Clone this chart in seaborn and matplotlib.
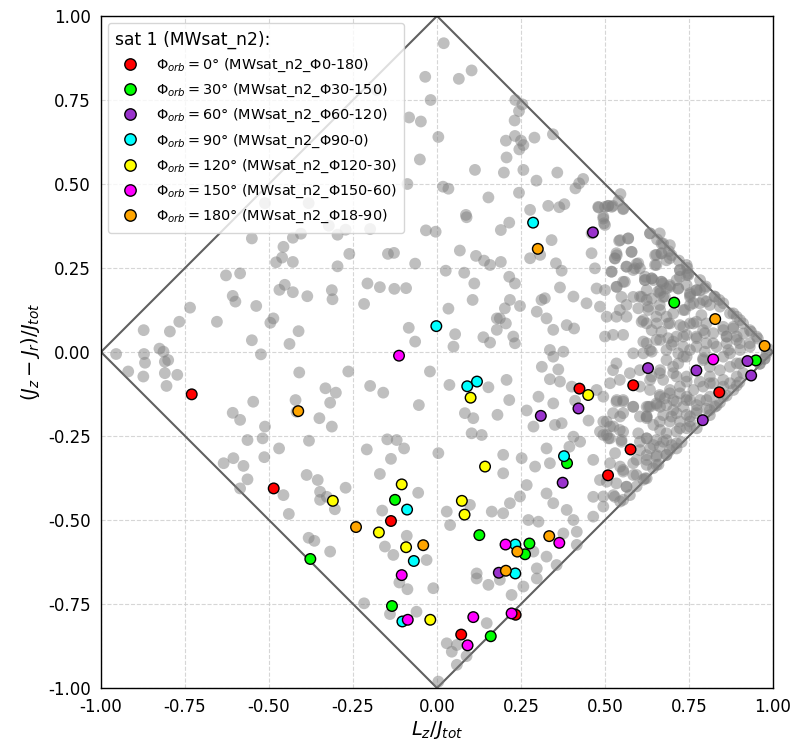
import matplotlib
matplotlib.use("Agg")
import matplotlib.pyplot as plt
from matplotlib.lines import Line2D
import seaborn as sns
import pandas as pd

# ---------------- data ----------------
grey_x = [
    -0.551, -0.457, -0.429, -0.405, -0.479, -0.461, -0.429, -0.322, -0.296, -0.272, -0.199, -0.261, -0.296,
    -0.146, -0.128, -0.065, -0.033, -0.004, -0.628, -0.586, -0.608, -0.600, -0.538, -0.469, -0.453, -0.429,
    -0.386, -0.313, -0.311, -0.207, -0.170, -0.127, -0.092, -0.217, -0.735, -0.767, -0.795, -0.873, -0.826,
    -0.955, -0.872, -0.814, -0.655, -0.551, -0.496, -0.487, -0.524, -0.439, -0.412, -0.084, -0.065,
    -0.512, -0.382, -0.180,
    0.020, -0.035, 0.065, 0.103, -0.019, -0.083, -0.048, 0.004, -0.051, -0.088, 0.018, 0.034, 0.113, 0.153,
    0.233, 0.254, 0.244, 0.231, 0.205, 0.232, 0.250, 0.257, 0.245, 0.290, 0.345, 0.207, 0.199, 0.257, 0.296,
    0.358, 0.244, 0.412, 0.423, 0.435, 0.364, 0.379, 0.481, 0.509, 0.523, 0.086, 0.540,
    0.088, 0.190, 0.215, 0.277, 0.331, 0.068, 0.116, 0.140, 0.158, 0.190, 0.026, 0.081, 0.111, 0.106, 0.034,
    0.054, 0.049, 0.138, 0.158, 0.178, 0.205, 0.215, 0.232, 0.217, 0.247, 0.202, 0.178, 0.187, 0.227, 0.232,
    0.277, 0.307, 0.341, 0.354, 0.371, 0.366, 0.406, 0.311, 0.321, 0.297, 0.326, 0.346, 0.386, 0.408, 0.336,
    0.376, 0.445, 0.460,
    -0.021, 0.037, 0.153, 0.207, 0.215, 0.180, 0.133, 0.103, 0.108, 0.083, 0.004, 0.267, 0.302, 0.346, 0.366,
    0.475, 0.495, 0.336, 0.406, 0.426, 0.394, 0.326, 0.252, 0.267, 0.336, 0.292, 0.530, 0.197, 0.197, 0.217,
    0.247, 0.163, 0.197, 0.029, 0.039, 0.098, 0.326, 0.346, 0.272, 0.302, 0.386, 0.406, 0.416, 0.376, 0.495,
    0.416, 0.326, 0.356, 0.297, -0.031, -0.011, 0.118, 0.118, 0.153, 0.187, 0.222, 0.257, 0.297, 0.287, 0.148,
    0.059, 0.029, 0.044, 0.059, 0.004, 0.088,
    -0.869, -0.810, -0.800, -0.810, -0.773, -0.919, -0.874, -0.805, -0.410, -0.264, -0.199, -0.160, -0.547,
    -0.608, -0.586, -0.512, -0.564, -0.519, -0.470, -0.381, -0.421, -0.418, -0.350, -0.313, -0.318, -0.332,
    -0.301, -0.209, -0.148, -0.120, -0.098, -0.137, -0.054, -0.635, -0.606, -0.576, -0.564, -0.586, -0.514,
    -0.388, -0.355, -0.348, -0.328, -0.304, -0.348, -0.457, -0.441, -0.272, -0.170, -0.056, -0.163, -0.090,
    -0.155, -0.130, -0.088, -0.112, -0.382, -0.365, -0.318, -0.217, -0.140, -0.061,
    0.546, 0.554, 0.510, 0.480, 0.495, 0.497, 0.634, 0.663, 0.542, 0.569, 0.668, 0.693, 0.579, 0.534, 0.529,
    0.653, 0.668, 0.693, 0.460, 0.470, 0.564, 0.594, 0.604, 0.584, 0.653, 0.519, 0.723, 0.743, 0.748, 0.619,
    0.639, 0.668, 0.693, 0.559, 0.534, 0.475, 0.500, 0.604, 0.624, 0.683, 0.718, 0.678, 0.658, 0.753, 0.772,
    0.797, 0.827, 0.782, 0.812, 0.852, 0.882, 0.753, 0.733, 0.663, 0.629, 0.599, 0.564, 0.544, 0.485, 0.505,
    0.534, 0.564, 0.624, 0.653, 0.683, 0.609, 0.639, 0.668, 0.688, 0.723, 0.753, 0.772, 0.802, 0.787, 0.852,
    0.882, 0.911, 0.931, 0.951, 0.892, 0.862, 0.822, 0.797, 0.772, 0.743, 0.713, 0.688, 0.653, 0.624, 0.554,
    0.524, 0.500, 0.698, 0.733, 0.772, 0.802, 0.832, 0.862, 0.901, 0.931, 0.985,
    0.584, 0.614, 0.639, 0.683, 0.718, 0.743, 0.792, 0.852, 0.892, 0.872, 0.911, 0.961, 0.975, 0.534, 0.524,
    0.515, 0.544, 0.574, 0.604, 0.639, 0.663, 0.703, 0.743, 0.782, 0.812, 0.872, 0.892, 0.862, 0.832, 0.802,
    0.753, 0.723, 0.693, 0.663, 0.634, 0.604, 0.554, 0.534, 0.584, 0.624, 0.653, 0.683, 0.713, 0.743, 0.772,
    0.624, 0.663, 0.693, 0.723, 0.753, 0.554, 0.524, 0.495, 0.544, 0.515, 0.485, 0.599, 0.624, 0.653, 0.683,
    0.713, 0.663, 0.634, 0.693, 0.604, 0.549, 0.683, 0.653, 0.624, 0.594, 0.554, 0.515, 0.485, 0.465, 0.534,
    0.584, 0.619, 0.564, 0.594, 0.529, 0.554, 0.465, 0.465, 0.495, 0.643, 0.653,
]
grey_y = [
    0.338, 0.313, 0.340, 0.352, 0.267, 0.281, 0.268, 0.376, 0.349, 0.364, 0.366, 0.292, 0.255,
    0.292, 0.295, 0.263, 0.362, 0.358, 0.228, 0.234, 0.167, 0.150, 0.137, 0.185, 0.200, 0.178,
    0.166, 0.184, 0.157, 0.204, 0.193, 0.188, 0.190, 0.143, 0.132, 0.090, 0.061, 0.065, 0.010,
    -0.006, -0.006, 0.001, 0.090, 0.035, 0.087, 0.100, -0.007, 0.024, 0.062, 0.072, 0.031,
    0.443, 0.443, 0.780,
    0.919, 0.819, 0.813, 0.838, 0.750, 0.698, 0.686, 0.640, 0.573, 0.500, 0.492, 0.486, 0.542, 0.460,
    0.750, 0.737, 0.717, 0.689, 0.629, 0.643, 0.629, 0.616, 0.603, 0.638, 0.648, 0.579, 0.534, 0.542, 0.510,
    0.534, 0.474, 0.487, 0.502, 0.515, 0.431, 0.440, 0.430, 0.435, 0.435, 0.408, 0.450,
    0.401, 0.363, 0.385, 0.423, 0.435, 0.302, 0.286, 0.272, 0.259, 0.268, 0.242, 0.236, 0.204, 0.155, 0.129,
    0.053, 0.016, 0.044, 0.028, 0.066, 0.085, 0.224, 0.204, 0.155, 0.137, 0.130, 0.100, 0.100, 0.046, 0.026,
    0.279, 0.289, 0.333, 0.264, 0.242, 0.192, 0.165, 0.155, 0.160, 0.120, 0.100, 0.066, 0.080, 0.070, 0.006,
    0.001, 0.145, 0.353,
    -0.058, -0.098, -0.105, -0.083, -0.143, -0.187, -0.247, -0.242, -0.197, -0.182, -0.301, -0.174, -0.133, -0.153, -0.088,
    -0.113, -0.133, -0.081, -0.252, -0.267, -0.282, -0.287, -0.316, -0.396, -0.331, -0.341, -0.301, -0.306, -0.361, -0.450,
    -0.430, -0.475, -0.480, -0.475, -0.515, -0.455, -0.421, -0.450, -0.500, -0.505, -0.470, -0.500, -0.535, -0.540, -0.430,
    -0.574, -0.609, -0.634, -0.644, -0.619, -0.703, -0.659, -0.674, -0.693, -0.678, -0.723, -0.698, -0.674, -0.594, -0.807,
    -0.872, -0.867, -0.892, -0.931, -0.981, -0.905,
    -0.032, -0.029, -0.024, -0.063, -0.068, -0.058, -0.073, -0.101, -0.061, -0.058, -0.101, -0.121, -0.148,
    -0.181, -0.202, -0.222, -0.262, -0.257, -0.287, -0.264, -0.143, -0.178, -0.197, -0.222, -0.151, -0.108,
    -0.121, -0.290, -0.260, -0.262, -0.287, -0.318, -0.158, -0.331, -0.316, -0.339, -0.379, -0.406, -0.313,
    -0.366, -0.381, -0.416, -0.431, -0.468, -0.440, -0.426, -0.482, -0.404, -0.363, -0.419, -0.472, -0.547,
    -0.579, -0.604, -0.706, -0.686, -0.553, -0.562, -0.594, -0.748, -0.780, -0.773,
    0.470, 0.425, 0.435, 0.432, 0.403, 0.383, 0.353, 0.353, 0.331, 0.338, 0.323, 0.318, 0.298, 0.294, 0.279,
    0.289, 0.294, 0.279, 0.294, 0.249, 0.254, 0.262, 0.249, 0.244, 0.259, 0.239, 0.244, 0.259, 0.234, 0.214,
    0.219, 0.209, 0.199, 0.209, 0.194, 0.189, 0.184, 0.165, 0.155, 0.189, 0.189, 0.165, 0.180, 0.170, 0.184,
    0.190, 0.165, 0.145, 0.140, 0.145, 0.115, 0.140, 0.125, 0.140, 0.125, 0.130, 0.140, 0.125, 0.135, 0.105,
    0.105, 0.105, 0.085, 0.105, 0.105, 0.090, 0.065, 0.060, 0.085, 0.080, 0.085, 0.090, 0.085, 0.110, 0.075,
    0.070, 0.085, 0.065, 0.046, 0.046, 0.046, 0.056, 0.056, 0.046, 0.051, 0.046, 0.041, 0.036, 0.026, 0.051,
    0.051, 0.046, 0.021, 0.016, 0.016, 0.026, 0.016, 0.026, 0.026, 0.016, 0.010,
    -0.004, -0.004, 0.001, -0.024, -0.034, -0.014, -0.019, -0.014, -0.034, -0.004, -0.063, -0.035, -0.020, -0.034, -0.054,
    -0.093, -0.083, -0.063, -0.054, -0.073, -0.063, -0.063, -0.088, -0.088, -0.093, -0.093, -0.100, -0.130, -0.160, -0.143,
    -0.143, -0.123, -0.123, -0.128, -0.113, -0.103, -0.143, -0.148, -0.163, -0.163, -0.153, -0.158, -0.182, -0.187, -0.182,
    -0.192, -0.207, -0.207, -0.227, -0.222, -0.182, -0.182, -0.207, -0.232, -0.257, -0.237, -0.242, -0.257, -0.262, -0.262,
    -0.272, -0.282, -0.287, -0.292, -0.292, -0.267, -0.306, -0.311, -0.321, -0.321, -0.351, -0.331, -0.381, -0.321, -0.391,
    -0.366, -0.376, -0.401, -0.400, -0.431, -0.440, -0.431, -0.490, -0.460, -0.346, -0.336,
]

# extra grey points read from the dense right-hand wedge
grey_dense_x = [
    0.619, 0.644, 0.673, 0.713, 0.743, 0.624, 0.664, 0.753, 0.783, 0.802, 0.763, 0.738, 0.703, 0.664, 0.629,
    0.614, 0.654, 0.693, 0.733, 0.763, 0.792, 0.773, 0.733, 0.703, 0.664, 0.634, 0.614, 0.683, 0.718, 0.753,
    0.797, 0.822, 0.862, 0.892, 0.902, 0.867, 0.852, 0.882, 0.912, 0.931, 0.955, 0.935, 0.902, 0.872, 0.842,
    0.840, 0.892, 0.981, 0.975, 0.960, 0.902, 0.872, 0.842, 0.812, 0.792, 0.733, 0.703, 0.664, 0.634, 0.673,
    0.713, 0.743, 0.812, 0.852, 0.892, 0.900, 0.882, 0.852, 0.822, 0.792, 0.763, 0.723, 0.693, 0.664, 0.703,
    0.743, 0.783, 0.812, 0.852, 0.842, 0.812, 0.773, 0.733, 0.703, 0.664, 0.634, 0.624, 0.753,
    0.346, 0.312, 0.361, 0.401, 0.411, 0.287, 0.351, 0.371, 0.451, 0.505, 0.515,
]
grey_dense_y = [
    0.224, 0.214, 0.204, 0.214, 0.229, 0.184, 0.175, 0.175, 0.184, 0.150, 0.145, 0.125, 0.115, 0.125, 0.135,
    0.095, 0.085, 0.085, 0.075, 0.085, 0.065, 0.041, 0.046, 0.031, 0.036, 0.006, 0.031, 0.006, -0.004, 0.006,
    0.001, 0.026, 0.046, 0.036, 0.006, 0.006, 0.065, 0.075, 0.055, 0.026, 0.040, 0.060, 0.095, 0.115, 0.135,
    0.155, 0.105, -0.004, -0.020, -0.035, -0.034, -0.044, -0.054, -0.044, -0.024, -0.014, -0.044, -0.054, -0.083, -0.083,
    -0.073, -0.073, -0.073, -0.083, -0.073, -0.090, -0.113, -0.103, -0.093, -0.103, -0.113, -0.103, -0.113, -0.133, -0.143,
    -0.133, -0.143, -0.133, -0.133, -0.150, -0.173, -0.173, -0.163, -0.173, -0.163, -0.163, -0.192, -0.192,
    -0.014, -0.044, -0.052, -0.103, -0.145, -0.222, -0.217, -0.212, -0.204, -0.247, -0.222,
]

# further grey points: lower-right edge band
grey_low_x = [
    0.535, 0.554, 0.584, 0.629, 0.654, 0.678, 0.713, 0.743, 0.773, 0.802, 0.827,
    0.545, 0.505, 0.525, 0.554, 0.604, 0.624, 0.644, 0.673, 0.698, 0.723, 0.753, 0.812,
    0.664, 0.683, 0.713, 0.743, 0.773,
    0.495, 0.510, 0.549, 0.604, 0.624, 0.644, 0.673, 0.698, 0.728,
    0.624, 0.654, 0.683, 0.713,
    0.545, 0.584, 0.624, 0.659, 0.594, 0.624, 0.554, 0.505, 0.564, 0.614, 0.525, 0.574, 0.545,
]
grey_low_y = [
    -0.143, -0.148, -0.163, -0.163, -0.158, -0.138, -0.148, -0.143, -0.158, -0.168, -0.163,
    -0.192, -0.207, -0.222, -0.237, -0.192, -0.197, -0.217, -0.188, -0.192, -0.207, -0.207, -0.188,
    -0.232, -0.242, -0.237, -0.227, -0.227,
    -0.247, -0.257, -0.262, -0.267, -0.257, -0.277, -0.267, -0.277, -0.268,
    -0.307, -0.307, -0.307, -0.287,
    -0.341, -0.331, -0.336, -0.335, -0.366, -0.376, -0.356, -0.386, -0.401, -0.380, -0.426, -0.426, -0.445,
]

# further grey points: upper-right edge band
grey_up_x = [
    0.500, 0.520, 0.495, 0.500, 0.554, 0.634, 0.655, 0.545, 0.569, 0.673, 0.690, 0.579, 0.535, 0.530, 0.649,
    0.668, 0.698, 0.683, 0.720, 0.599, 0.589, 0.564, 0.520, 0.649, 0.723, 0.745, 0.748, 0.723, 0.639, 0.619,
    0.554, 0.535, 0.668, 0.693, 0.664, 0.718, 0.743, 0.783, 0.800, 0.773, 0.825, 0.792, 0.609, 0.639, 0.584,
    0.549, 0.673, 0.753,
]
grey_up_y = [
    0.432, 0.432, 0.397, 0.378, 0.427, 0.353, 0.335, 0.333, 0.338, 0.323, 0.300, 0.298, 0.288, 0.278, 0.288,
    0.293, 0.288, 0.273, 0.272, 0.264, 0.249, 0.254, 0.239, 0.259, 0.244, 0.250, 0.229, 0.224, 0.219, 0.214,
    0.209, 0.194, 0.209, 0.194, 0.184, 0.189, 0.199, 0.214, 0.195, 0.184, 0.165, 0.155, 0.164, 0.159, 0.164,
    0.164, 0.164, 0.164,
]

phi0_x = [-0.730, -0.486, -0.137, 0.424, 0.584, 0.840, 0.576, 0.509, 0.234, 0.072]
phi0_y = [-0.126, -0.406, -0.503, -0.109, -0.099, -0.120, -0.290, -0.367, -0.782, -0.841]
phi30_x = [-0.377, -0.125, -0.134, 0.706, 0.949, 0.387, 0.126, 0.275, 0.262, 0.160]
phi30_y = [-0.616, -0.440, -0.756, 0.147, -0.025, -0.331, -0.545, -0.570, -0.602, -0.846]
phi60_x = [0.464, 0.924, 0.935, 0.772, 0.791, 0.628, 0.421, 0.309, 0.374, 0.184]
phi60_y = [0.356, -0.027, -0.070, -0.055, -0.203, -0.048, -0.168, -0.190, -0.389, -0.657]
phi90_x = [0.286, -0.002, 0.090, 0.119, 0.378, 0.233, 0.233, -0.089, -0.069, -0.103]
phi90_y = [0.385, 0.077, -0.102, -0.088, -0.310, -0.573, -0.659, -0.469, -0.622, -0.802]
phi120_x = [-0.310, -0.173, -0.105, -0.092, -0.020, 0.450, 0.100, 0.143, 0.074, 0.082]
phi120_y = [-0.443, -0.537, -0.394, -0.581, -0.797, -0.128, -0.136, -0.341, -0.443, -0.484]
phi150_x = [-0.113, -0.105, -0.087, 0.822, 0.364, 0.204, 0.108, 0.222, 0.091]
phi150_y = [-0.011, -0.664, -0.797, -0.022, -0.568, -0.573, -0.789, -0.778, -0.873]
phi180_x = [-0.413, -0.241, -0.041, 0.300, 0.828, 0.975, 0.334, 0.239, 0.205]
phi180_y = [-0.176, -0.521, -0.575, 0.307, 0.098, 0.018, -0.548, -0.594, -0.651]

phase_labels = [
    r"$\Phi_{orb} = 0°$ (MWsat_n2_Φ0-180)",
    r"$\Phi_{orb} = 30°$ (MWsat_n2_Φ30-150)",
    r"$\Phi_{orb} = 60°$ (MWsat_n2_Φ60-120)",
    r"$\Phi_{orb} = 90°$ (MWsat_n2_Φ90-0)",
    r"$\Phi_{orb} = 120°$ (MWsat_n2_Φ120-30)",
    r"$\Phi_{orb} = 150°$ (MWsat_n2_Φ150-60)",
    r"$\Phi_{orb} = 180°$ (MWsat_n2_Φ18-90)",
]
phase_colors = ["#ff0000", "#00ff00", "#9932cc", "#00ffff", "#ffff00", "#ff00ff", "#ffa500"]
legend_title = "sat 1 (MWsat_n2):"

diamond_x = [-1, 0, 1, 0, -1]
diamond_y = [0, 1, 0, -1, 0]
tick_vals = [-1.0, -0.75, -0.5, -0.25, 0.0, 0.25, 0.5, 0.75, 1.0]

# ---------------- build tables ----------------
grey_df = pd.concat([pd.DataFrame({"x": grey_x, "y": grey_y}),
                     pd.DataFrame({"x": grey_dense_x, "y": grey_dense_y}),
                     pd.DataFrame({"x": grey_low_x, "y": grey_low_y}),
                     pd.DataFrame({"x": grey_up_x, "y": grey_up_y})], ignore_index=True)
series_xy = [(phi0_x, phi0_y), (phi30_x, phi30_y), (phi60_x, phi60_y), (phi90_x, phi90_y),
             (phi120_x, phi120_y), (phi150_x, phi150_y), (phi180_x, phi180_y)]
frames = []
for lab, (xs, ys) in zip(phase_labels, series_xy):
    frames.append(pd.DataFrame({"x": xs, "y": ys, "phase": lab}))
sat_df = pd.concat(frames, ignore_index=True)

# ---------------- plot ----------------
sns.set_style("white")
plt.rcParams["font.family"] = ["DejaVu Sans"]
for key in ["text.color", "axes.labelcolor", "xtick.color", "ytick.color"]:
    plt.rcParams[key] = "black"

fig = plt.figure(figsize=(8.05, 7.5), dpi=100)
ax = fig.add_axes([101 / 805, 1 - 688 / 750, 672 / 805, 672 / 750])

ax.grid(True, linestyle="--", color="#cccccc", linewidth=0.8, alpha=0.8)
ax.set_axisbelow(True)

sns.lineplot(x=diamond_x, y=diamond_y, sort=False, color="#606060", linewidth=1.5,
             ax=ax, zorder=2, estimator=None)

sns.scatterplot(data=grey_df, x="x", y="y", color="grey", alpha=0.5, s=72,
                edgecolor="none", linewidth=0, ax=ax, zorder=3, legend=False)

sns.scatterplot(data=sat_df, x="x", y="y", hue="phase", palette=phase_colors,
                hue_order=phase_labels, s=58, edgecolor="black", linewidth=1.0,
                ax=ax, zorder=4, legend=False)

ax.set_xlim(-1, 1)
ax.set_ylim(-1, 1)
ax.set_xticks(tick_vals)
ax.set_yticks(tick_vals)
ax.set_xticklabels([f"{v:.2f}" for v in tick_vals], fontsize=12)
ax.set_yticklabels([f"{v:.2f}" for v in tick_vals], fontsize=12)
ax.tick_params(axis="both", direction="out", length=4, width=0.8, color="black")
ax.set_xlabel(r"$L_z/J_{tot}$", fontsize=14, labelpad=2)
ax.set_ylabel(r"$(J_z - J_r)/J_{tot}$", fontsize=14, labelpad=4)
for sp in ax.spines.values():
    sp.set_color("black")
    sp.set_linewidth(1.0)

handles = [Line2D([], [], marker="o", linestyle="", markerfacecolor=c,
                  markeredgecolor="black", markeredgewidth=1.0, markersize=8.2)
           for c in phase_colors]
leg = ax.legend(handles, phase_labels, title=legend_title, loc="upper left",
                fontsize=10.4, title_fontsize=12.3, framealpha=0.8, alignment="left",
                labelspacing=0.55, borderpad=0.5, handletextpad=0.8)
leg.get_frame().set_edgecolor("#cccccc")

fig.savefig("out.png", dpi=100)
